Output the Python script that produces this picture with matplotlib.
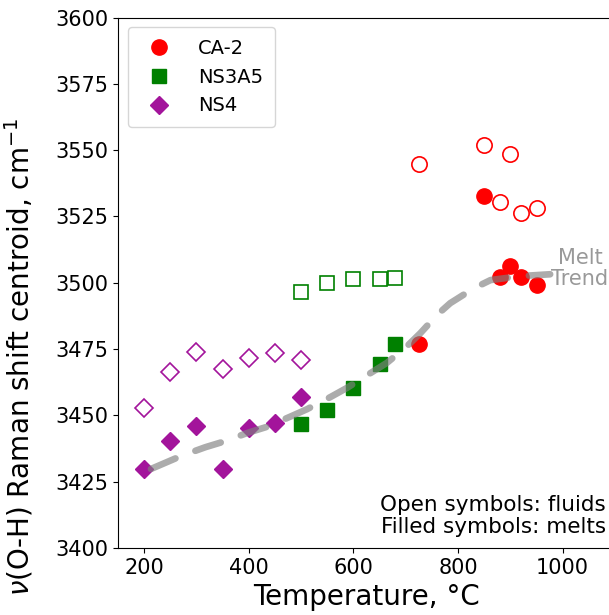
import numpy as np
import matplotlib
matplotlib.use("Agg")
import matplotlib.pyplot as plt

# CA-2 (red circles)
ca2_fluid_T = [725, 850, 880, 900, 920, 950]
ca2_fluid_v = [3544.8, 3552.0, 3530.6, 3548.4, 3526.4, 3528.0]
ca2_melt_T = [725, 850, 880, 900, 920, 950]
ca2_melt_v = [3476.8, 3532.6, 3502.2, 3506.4, 3502.2, 3499.2]

# NS3A5 (green squares)
ns3a5_fluid_T = [500, 550, 600, 650, 680]
ns3a5_fluid_v = [3496.6, 3500.0, 3501.6, 3501.4, 3501.8]
ns3a5_melt_T = [500, 550, 600, 650, 680]
ns3a5_melt_v = [3446.6, 3451.9, 3460.2, 3469.3, 3476.8]

# NS4 (purple diamonds)
ns4_fluid_T = [200, 250, 300, 350, 400, 450, 500]
ns4_fluid_v = [3452.7, 3466.5, 3473.8, 3467.5, 3471.7, 3473.6, 3471.0]
ns4_melt_T = [200, 250, 300, 350, 400, 450, 500]
ns4_melt_v = [3429.8, 3440.5, 3446.0, 3429.8, 3445.1, 3447.2, 3456.8]

# melt trend
trend_T = [213, 272, 317, 352, 399, 435, 479, 511, 556, 588, 629, 664, 702, 728, 760, 785, 830, 862, 919, 976]
trend_v = [3429.8, 3434.8, 3438.0, 3440.1, 3443.5, 3445.7, 3449.5, 3452.3, 3456.9, 3460.4,
           3465.5, 3469.8, 3476.0, 3481.0, 3487.9, 3492.3, 3497.9, 3501.0, 3502.5, 3503.2]

red = "#ff0000"
green = "#008000"
purple = "#a3149b"

fig = plt.figure(figsize=(6.09, 6.15), dpi=100)
ax = fig.add_axes([118 / 609, 1 - 548 / 615, 497 / 609, 530.5 / 615])

ax.plot(trend_T, trend_v, color="gray", alpha=0.65, lw=4.8, dashes=(4, 3.2),
        solid_capstyle="round", dash_capstyle="round", zorder=3)

ms = 11
ax.plot(ca2_fluid_T, ca2_fluid_v, "o", ms=ms, mfc="white", mec=red, mew=1.2, ls="none", zorder=2)
ax.plot(ns3a5_fluid_T, ns3a5_fluid_v, "s", ms=ms - 0.5, mfc="white", mec=green, mew=1.2, ls="none", zorder=2)
ax.plot(ns4_fluid_T, ns4_fluid_v, "D", ms=ms - 1.5, mfc="white", mec=purple, mew=1.2, ls="none", zorder=2)

ax.plot(ca2_melt_T, ca2_melt_v, "o", ms=ms, color=red, ls="none", zorder=2, label="CA-2")
ax.plot(ns3a5_melt_T, ns3a5_melt_v, "s", ms=ms - 0.5, color=green, ls="none", zorder=2, label="NS3A5")
ax.plot(ns4_melt_T, ns4_melt_v, "D", ms=ms - 1.5, color=purple, ls="none", zorder=2, label="NS4")

ax.set_xlim(150, 1100)
ax.set_ylim(3400, 3600)
ax.set_xticks([200, 400, 600, 800, 1000])
ax.set_yticks(np.arange(3400, 3601, 25))
ax.tick_params(labelsize=15)
ax.spines["right"].set_visible(False)

ax.set_xlabel("Temperature, °C", fontsize=20)
ax.set_ylabel(r"$\nu$(O-H) Raman shift centroid, cm$^{-1}$", fontsize=20)
ax.yaxis.set_label_coords(-0.165, 0.36)

ax.legend(loc="upper left", fontsize=14, borderpad=0.6, handletextpad=1.0)

ax.text(1033, 3513, "Melt\nTrend", color="#999999", fontsize=15, ha="center", va="top",
        linespacing=1.05, multialignment="center")
ax.text(1083, 3404, "Open symbols: fluids\nFilled symbols: melts", fontsize=15.5,
        ha="right", va="bottom", linespacing=1.15)

fig.savefig("out.png", dpi=100)
